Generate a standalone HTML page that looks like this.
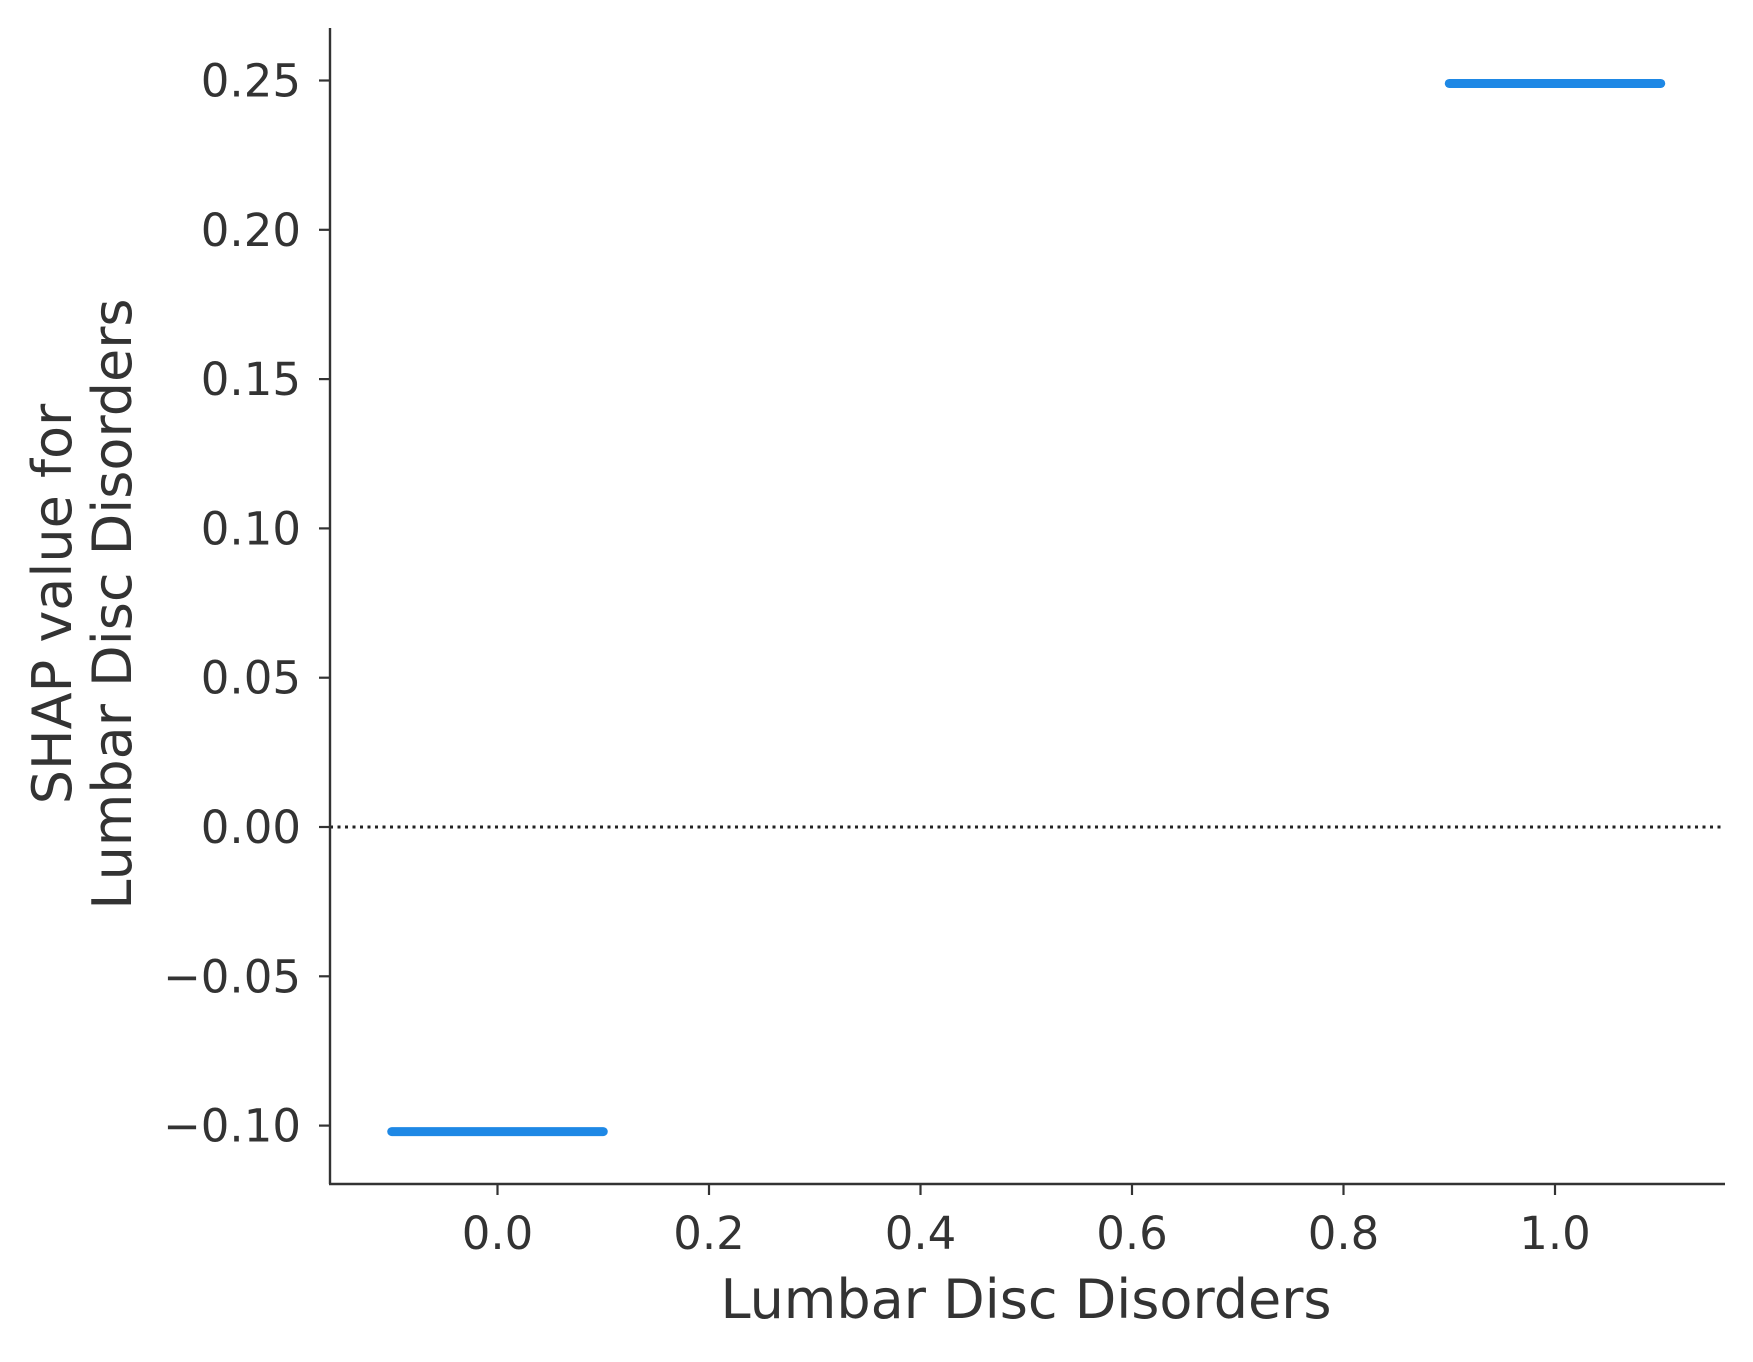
<!DOCTYPE html>
<html><head><meta charset="utf-8"><style>
body{margin:0;background:#fff}
svg text{font-family:"DejaVu Sans","Liberation Sans",sans-serif;fill:#333}
</style></head><body>
<svg id="chart" width="1753" height="1357" xmlns="http://www.w3.org/2000/svg"></svg>
<script>
const categories=[0,1];
const shapValues=[-0.102,0.249];
const jitterHalfWidth=[0.1,0.1];
const xTicks=[0,0.2,0.4,0.6,0.8,1.0];
const xTickLabels=["0.0","0.2","0.4","0.6","0.8","1.0"];
const yTicks=[-0.10,-0.05,0,0.05,0.10,0.15,0.20,0.25];
const yTickLabels=["\u22120.10","\u22120.05","0.00","0.05","0.10","0.15","0.20","0.25"];
const L=330,R=1725,T=28,B=1184;
const X=v=>497.5+(1555-497.5)*v;
const Y=v=>827+(80.5-827)*(v/0.25);
const svg=document.getElementById('chart');
const NS="http://www.w3.org/2000/svg";
function mk(t,a,p){const e=document.createElementNS(NS,t);for(const k in a)e.setAttribute(k,a[k]);(p||svg).appendChild(e);return e;}
let z=mk('line',{x1:L,x2:R,y1:Y(0),y2:Y(0),stroke:'#222','stroke-width':3,'stroke-dasharray':'3 4.5'});


categories.forEach((c,i)=>{
 const l=mk('line',{x1:X(c-jitterHalfWidth[i]),x2:X(c+jitterHalfWidth[i]),y1:Y(shapValues[i]),y2:Y(shapValues[i]),stroke:'#1E88E5','stroke-width':9,'stroke-linecap':'round'});
 
 
});
let ax=mk('line',{x1:L,x2:L,y1:T,y2:B,stroke:'#333','stroke-width':2.4});


let bx=mk('line',{x1:L-1,x2:R,y1:B,y2:B,stroke:'#333','stroke-width':2.4});


xTicks.forEach((v,i)=>{
 const tk=mk('line',{x1:X(v),x2:X(v),y1:B,y2:B+11,stroke:'#333','stroke-width':2.2});
 
 
 const t=mk('text',{x:X(v),y:1249,'text-anchor':'middle','font-size':45});
 t.textContent=xTickLabels[i];
 
 
});
yTicks.forEach((v,i)=>{
 const tk=mk('line',{x1:L-11,x2:L,y1:Y(v),y2:Y(v),stroke:'#333','stroke-width':2.2});
 
 
 const t=mk('text',{x:L-29,y:Y(v)+16,'text-anchor':'end','font-size':45});
 t.textContent=yTickLabels[i];
 
 
});
let xl=mk('text',{x:1026,y:1318,'text-anchor':'middle','font-size':54});
xl.textContent='Lumbar Disc Disorders';


let yl=mk('text',{transform:'translate(71,604) rotate(-90)','text-anchor':'middle','font-size':54});


const s1=mk('tspan',{x:0,y:0},yl);s1.textContent='SHAP value for';
const s2=mk('tspan',{x:0,y:60},yl);s2.textContent='Lumbar Disc Disorders';
</script>
</body></html>
